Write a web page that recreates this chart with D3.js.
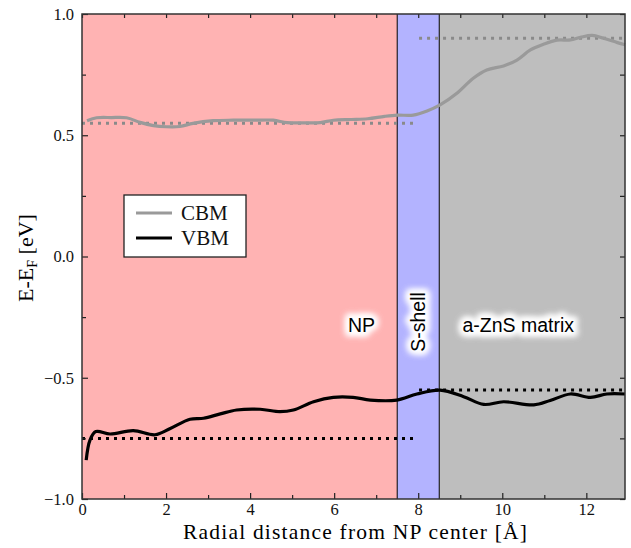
<!DOCTYPE html>
<html>
<head>
<meta charset="utf-8">
<script src="https://cdn.jsdelivr.net/npm/d3@7"></script>
<style>
  body { margin: 0; background: #fff; }
  svg { display: block; }
</style>
</head>
<body>
<div id="chart"></div>
<script>
// regions along the radial axis
var regionNames = ["NP", "S-shell", "a-ZnS matrix"];
var regionStart = [0, 7.5, 8.5];
var regionEnd = [7.5, 8.5, 12.92];
var regionColors = ["#ffb3b3", "#b3b3ff", "#bebebe"];

// conduction band minimum (grey curve)
var cbmX = [0.12, 0.35, 0.7, 1.06, 1.38, 1.7, 2.0, 2.33, 2.64, 3.12, 3.6, 4.1, 4.55, 4.88, 5.3, 5.67, 5.98, 6.4, 6.8, 7.2, 7.5, 7.88,
  8.21, 8.52, 8.92, 9.31, 9.63, 10.03, 10.35, 10.67, 10.98, 11.3, 11.62, 11.86, 12.14, 12.41, 12.74, 12.92];
var cbmY = [0.56, 0.572, 0.573, 0.572, 0.553, 0.54, 0.535, 0.536, 0.549, 0.56, 0.562, 0.562, 0.562, 0.552, 0.551, 0.552, 0.562, 0.565, 0.568, 0.578, 0.583, 0.583,
  0.6, 0.625, 0.673, 0.735, 0.769, 0.786, 0.81, 0.852, 0.875, 0.892, 0.893, 0.904, 0.912, 0.9, 0.882, 0.873];

// valence band maximum (black curve)
var vbmX = [0.1, 0.19, 0.33, 0.67, 1.22, 1.74, 2.1, 2.57, 2.89, 3.29, 3.68, 4.24, 4.71, 5.03, 5.51, 5.98, 6.45, 6.86, 7.49, 7.97,
  8.52, 9.08, 9.56, 10.03, 10.75, 11.14, 11.62, 12.1, 12.49, 12.92];
var vbmY = [-0.84, -0.757, -0.722, -0.732, -0.718, -0.735, -0.709, -0.671, -0.667, -0.649, -0.633, -0.63, -0.64, -0.633, -0.599, -0.581, -0.581, -0.592, -0.592, -0.567,
  -0.551, -0.578, -0.61, -0.599, -0.612, -0.594, -0.567, -0.581, -0.567, -0.567];

// bulk reference levels (dotted)
var levelFrom = [0, 8.02, 0, 8.02];
var levelTo = [7.9, 12.92, 7.9, 12.92];
var levelValue = [0.55, 0.9, -0.75, -0.55];
var levelBand = ["CBM", "CBM", "VBM", "VBM"];

var legendNames = ["CBM", "VBM"];
var xTicks = [0, 2, 4, 6, 8, 10, 12];
var yTicks = [-1.0, -0.5, 0.0, 0.5, 1.0];

var bandColor = { CBM: "#9a9a9a", VBM: "#000000" };
var levelColor = { CBM: "#8a8a8a", VBM: "#000000" };

var W = 631, H = 548;
var plotL = 82, plotR = 625, plotT = 14, plotB = 499;

var x = d3.scaleLinear().domain([0, 12.92]).range([plotL, plotR]);
var y = d3.scaleLinear().domain([-1, 1]).range([plotB, plotT]);

var svg = d3.select("#chart").append("svg")
  .attr("width", W)
  .attr("height", H);

// soft blur for the white halo behind region labels
var defs = svg.append("defs");
defs.append("filter").attr("id", "soft")
  .attr("x", "-50%").attr("y", "-100%").attr("width", "200%").attr("height", "300%")
  .append("feGaussianBlur").attr("stdDeviation", 3.2);

// region backgrounds
svg.selectAll(".region")
  .data(regionNames)
  .enter()
  .append("rect")
  .attr("class", "region")
  .attr("x", function(d, i) { return x(regionStart[i]); })
  .attr("y", plotT)
  .attr("width", function(d, i) { return x(regionEnd[i]) - x(regionStart[i]); })
  .attr("height", plotB - plotT)
  .attr("fill", function(d, i) { return regionColors[i]; });

// boundaries between regions
svg.selectAll(".boundary")
  .data(regionStart.slice(1))
  .enter()
  .append("line")
  .attr("x1", function(d) { return x(d); })
  .attr("x2", function(d) { return x(d); })
  .attr("y1", plotT)
  .attr("y2", plotB)
  .attr("stroke", "#000")
  .attr("stroke-width", 1);

// dotted bulk levels
svg.selectAll(".level")
  .data(levelValue)
  .enter()
  .append("line")
  .attr("x1", function(d, i) { return x(levelFrom[i]); })
  .attr("x2", function(d, i) { return x(levelTo[i]); })
  .attr("y1", function(d) { return y(d); })
  .attr("y2", function(d) { return y(d); })
  .attr("stroke", function(d, i) { return levelColor[levelBand[i]]; })
  .attr("stroke-width", 3)
  .attr("stroke-dasharray", "3,5");

var line = d3.line().curve(d3.curveCatmullRom.alpha(0.5));

svg.append("path")
  .attr("d", line(cbmX.map(function(v, i) { return [x(v), y(cbmY[i])]; })))
  .attr("fill", "none")
  .attr("stroke", bandColor.CBM)
  .attr("stroke-width", 3.2);

svg.append("path")
  .attr("d", line(vbmX.map(function(v, i) { return [x(v), y(vbmY[i])]; })))
  .attr("fill", "none")
  .attr("stroke", bandColor.VBM)
  .attr("stroke-width", 3.2);

// region labels with white glow
var labelFont = "'Liberation Sans', Arial, sans-serif";
var labelPos = [
  "translate(" + x(6.65) + "," + y(-0.282) + ")",
  "translate(" + x(8.0) + "," + y(-0.27) + ") rotate(-90)",
  "translate(" + x(10.38) + "," + y(-0.282) + ")"
];
regionNames.forEach(function(name, i) {
  var g = svg.append("g").attr("transform", labelPos[i]);
  [0, 1].forEach(function() {
    g.append("text")
      .attr("text-anchor", "middle").attr("dominant-baseline", "central")
      .attr("font-family", labelFont).attr("font-size", 19.5)
      .attr("fill", "#fff").attr("stroke", "#fff").attr("stroke-width", 7)
      .attr("stroke-linejoin", "round")
      .attr("filter", "url(#soft)")
      .text(name);
  });
  g.append("text")
    .attr("text-anchor", "middle").attr("dominant-baseline", "central")
    .attr("font-family", labelFont).attr("font-size", 19.5)
    .attr("fill", "#000")
    .text(name);
});

// axes, ticks pointing inward on all four sides
var serif = "'Liberation Serif', 'DejaVu Serif', serif";
var minorX = d3.range(1, 13, 2);
var minorY = [-0.75, -0.25, 0.25, 0.75];

function styleAxis(g) {
  g.select(".domain").remove();
  g.selectAll("line").attr("stroke", "#222").attr("stroke-width", 1.2);
  g.selectAll("text").attr("font-family", serif).attr("font-size", 16.5).attr("fill", "#111");
}

svg.append("g")
  .attr("transform", "translate(0," + plotB + ")")
  .call(d3.axisBottom(x).tickValues(xTicks).tickSize(-6).tickPadding(4).tickFormat(d3.format("d")))
  .call(styleAxis);
svg.append("g")
  .attr("transform", "translate(0," + plotB + ")")
  .call(d3.axisBottom(x).tickValues(minorX).tickSize(-4).tickFormat(""))
  .call(styleAxis);
svg.append("g")
  .attr("transform", "translate(0," + plotT + ")")
  .call(d3.axisTop(x).tickValues(xTicks.concat(minorX)).tickSize(-4).tickFormat(""))
  .call(styleAxis);

svg.append("g")
  .attr("transform", "translate(" + plotL + ",0)")
  .call(d3.axisLeft(y).tickValues(yTicks).tickSize(-6).tickPadding(8).tickFormat(d3.format(".1f")))
  .call(styleAxis);
svg.append("g")
  .attr("transform", "translate(" + plotL + ",0)")
  .call(d3.axisLeft(y).tickValues(minorY).tickSize(-4).tickFormat(""))
  .call(styleAxis);
svg.append("g")
  .attr("transform", "translate(" + plotR + ",0)")
  .call(d3.axisRight(y).tickValues(yTicks.concat(minorY)).tickSize(-5).tickFormat(""))
  .call(styleAxis);

// frame
svg.append("rect")
  .attr("x", plotL).attr("y", plotT)
  .attr("width", plotR - plotL).attr("height", plotB - plotT)
  .attr("fill", "none")
  .attr("stroke", "#333")
  .attr("stroke-width", 1.5);

// axis titles
svg.append("text")
  .attr("x", 355).attr("y", 539)
  .attr("text-anchor", "middle")
  .attr("font-family", serif).attr("font-size", 21.5)
  .attr("textLength", 344).attr("lengthAdjust", "spacing")
  .text("Radial distance from NP center [Å]");

var yTitle = svg.append("text")
  .attr("transform", "translate(33,258) rotate(-90)")
  .attr("text-anchor", "middle")
  .attr("font-family", serif).attr("font-size", 22);
yTitle.append("tspan").text("E-E");
yTitle.append("tspan").attr("font-size", 14).attr("dy", 4).text("F");
yTitle.append("tspan").attr("dy", -4).text(" [eV]");

// legend
var legend = svg.append("g").attr("transform", "translate(124,195)");
legend.append("rect")
  .attr("width", 122).attr("height", 62)
  .attr("fill", "#fff").attr("stroke", "#222").attr("stroke-width", 1.3);
legend.selectAll(".key")
  .data(legendNames)
  .enter()
  .append("line")
  .attr("x1", 12).attr("x2", 48)
  .attr("y1", function(d, i) { return 18 + i * 25; })
  .attr("y2", function(d, i) { return 18 + i * 25; })
  .attr("stroke", function(d) { return bandColor[d]; })
  .attr("stroke-width", 3.2);
legend.selectAll(".lbl")
  .data(legendNames)
  .enter()
  .append("text")
  .attr("x", 57)
  .attr("y", function(d, i) { return 18 + i * 25; })
  .attr("dominant-baseline", "central")
  .attr("font-family", serif).attr("font-size", 21)
  .attr("fill", "#111")
  .text(function(d) { return d; });
</script>
</body>
</html>
